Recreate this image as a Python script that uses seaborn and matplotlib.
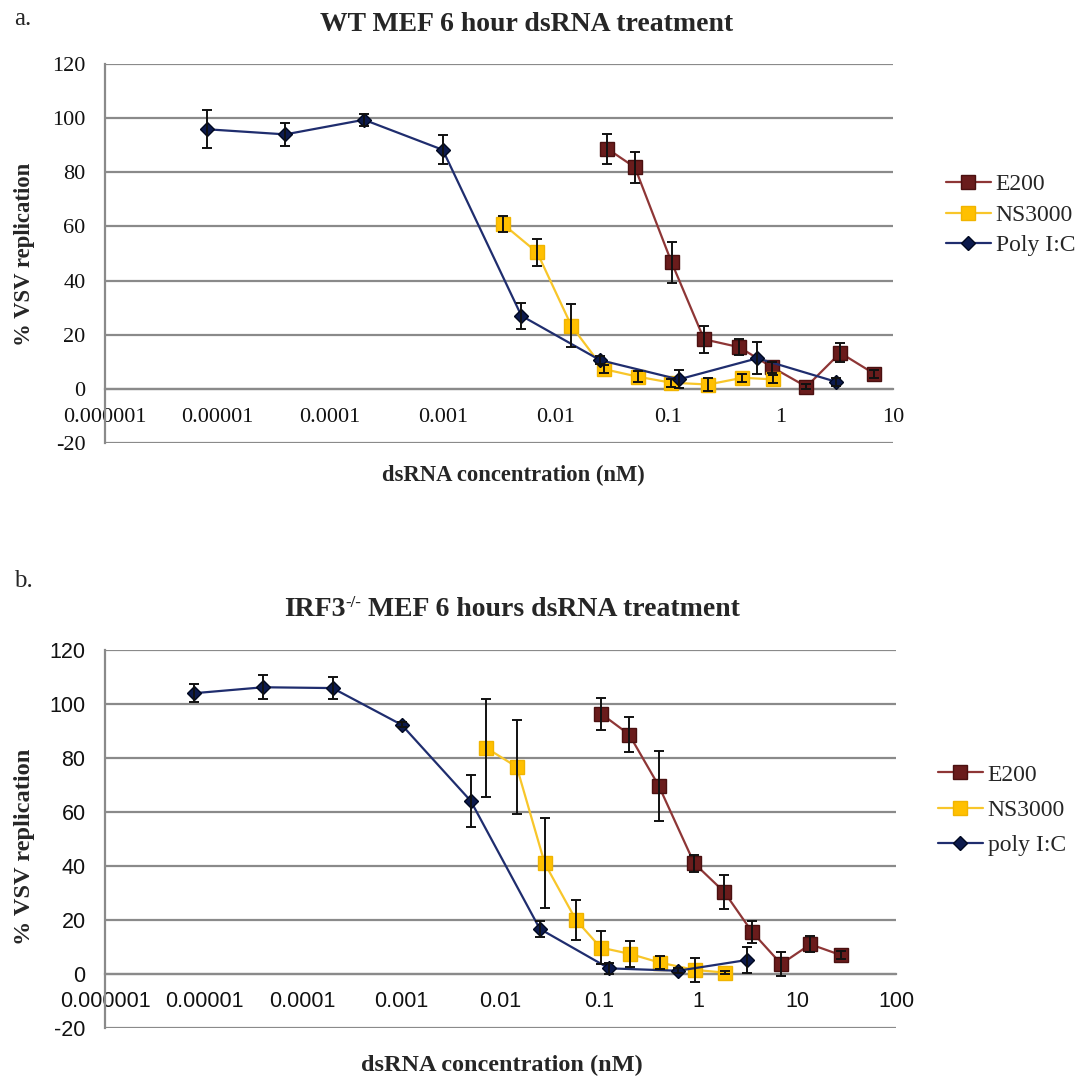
import matplotlib
matplotlib.use("Agg")
import matplotlib.pyplot as plt
import seaborn as sns
import pandas as pd
from matplotlib.ticker import FixedLocator, FixedFormatter, NullLocator
from matplotlib.lines import Line2D

# ---------------- data ----------------
series_names_a = ["E200", "NS3000", "Poly I:C"]
series_names_b = ["E200", "NS3000", "poly I:C"]

# Panel a: WT MEF
e200_a_x = [0.029, 0.051, 0.108, 0.21, 0.43, 0.85, 1.7, 3.4, 6.8]
e200_a_y = [88.7, 81.8, 46.7, 18.3, 15.4, 7.9, 0.8, 13.3, 5.6]
e200_a_err = [5.5, 5.7, 7.5, 5.0, 3.0, 2.0, 1.0, 3.5, 1.5]

ns_a_x = [0.0034, 0.0069, 0.0139, 0.027, 0.054, 0.106, 0.228, 0.46, 0.86]
ns_a_y = [61.0, 50.4, 23.3, 7.3, 4.5, 2.3, 1.6, 4.1, 3.5]
ns_a_err = [3.0, 5.0, 8.0, 1.5, 2.0, 1.5, 2.5, 1.5, 1.5]

poly_a_x = [8e-6, 4e-5, 2e-4, 1e-3, 5e-3, 0.025, 0.125, 0.625, 3.125]
poly_a_y = [95.9, 94.0, 99.4, 88.3, 27.0, 10.6, 3.5, 11.3, 2.6]
poly_a_err = [7.0, 4.3, 2.2, 5.4, 4.8, 1.5, 3.3, 5.9, 1.5]

# Panel b: IRF3-/- MEF
e200_b_x = [0.105, 0.20, 0.40, 0.91, 1.83, 3.5, 6.9, 13.6, 27.7]
e200_b_y = [96.3, 88.7, 69.6, 41.0, 30.4, 15.6, 3.7, 11.0, 7.0]
e200_b_err = [5.8, 6.5, 12.9, 3.2, 6.2, 4.0, 4.6, 2.9, 1.5]

ns_b_x = [0.0072, 0.0146, 0.028, 0.058, 0.103, 0.206, 0.41, 0.93, 1.88]
ns_b_y = [83.7, 76.7, 41.0, 20.0, 9.8, 7.4, 4.2, 1.5, 0.5]
ns_b_err = [18.0, 17.3, 16.7, 7.3, 6.0, 4.8, 2.5, 4.6, 0.5]

poly_b_x = [8e-6, 4e-5, 2e-4, 1e-3, 5e-3, 0.025, 0.125, 0.625, 3.125]
poly_b_y = [104.0, 106.2, 105.9, 92.3, 64.1, 16.7, 2.1, 1.2, 5.2]
poly_b_err = [3.4, 4.5, 4.2, 1.0, 9.7, 3.0, 2.0, 1.0, 4.7]

x_ticks_a = [1e-6, 1e-5, 1e-4, 1e-3, 1e-2, 1e-1, 1, 10]
x_labels_a = ["0.000001", "0.00001", "0.0001", "0.001", "0.01", "0.1", "1", "10"]
x_ticks_b = [1e-6, 1e-5, 1e-4, 1e-3, 1e-2, 1e-1, 1, 10, 100]
x_labels_b = ["0.000001", "0.00001", "0.0001", "0.001", "0.01", "0.1", "1", "10", "100"]
y_ticks = [-20, 0, 20, 40, 60, 80, 100, 120]

title_a = "WT MEF 6 hour dsRNA treatment"
title_b_parts = ["IRF3", "-/-", " MEF 6 hours dsRNA treatment"]
x_label = "dsRNA concentration (nM)"
y_label = "% VSV replication"

# ---------------- style ----------------
sns.set_theme(style="white")
plt.rcParams["font.family"] = ["Liberation Serif", "DejaVu Serif"]

SERIF = "Liberation Serif"
SANS = "Liberation Sans"
GRID = "#8a8a8a"

styles = {
    "E200": dict(color="#8e3636", marker="s", mfc="#6a1c1c", mec="#4a1010", ms=9.5),
    "NS3000": dict(color="#f8c62a", marker="s", mfc="#ffc000", mec="#f0b400", ms=9.5),
    "poly": dict(color="#1f2d6e", marker="D", mfc="#0c1a4d", mec="#000820", ms=7.5),
}

W, H = 1086, 1082
fig = plt.figure(figsize=(W / 100, H / 100), dpi=100)


def fx(px):
    return px / W


def fy(py):
    return 1 - py / H


axA = fig.add_axes([fx(105), fy(443), fx(893) - fx(105), fy(64) - fy(443)])
axB = fig.add_axes([fx(105), fy(1028), fx(896) - fx(105), fy(650) - fy(1028)])


def draw_series(ax, xs, ys, errs, key, label):
    st = styles[key]
    df = pd.DataFrame({"x": xs, "y": ys})
    sns.lineplot(data=df, x="x", y="y", ax=ax, color=st["color"], lw=1.6,
                 marker=st["marker"], markersize=st["ms"],
                 markerfacecolor=st["mfc"], markeredgecolor=st["mec"],
                 markeredgewidth=1.0, label=label, zorder=3, legend=False)
    ax.errorbar(xs, ys, yerr=errs, fmt="none", ecolor="#111111",
                elinewidth=1.4, capsize=3.5, capthick=1.4, zorder=4)


def style_axes(ax, xticks, xlabels, tickfont, ticksize, xpad):
    ax.set_xscale("log")
    ax.set_xlim(xticks[0], xticks[-1])
    ax.set_ylim(-20, 120)
    ax.xaxis.set_major_locator(FixedLocator(xticks))
    ax.xaxis.set_major_formatter(FixedFormatter(xlabels))
    ax.xaxis.set_minor_locator(NullLocator())
    ax.yaxis.set_major_locator(FixedLocator(y_ticks))
    ax.yaxis.set_major_formatter(FixedFormatter([str(v) for v in y_ticks]))
    ax.yaxis.grid(True, color=GRID, lw=1.6)
    ax.xaxis.grid(False)
    ax.set_axisbelow(True)
    ax.spines["top"].set_visible(False)
    ax.spines["right"].set_visible(False)
    ax.spines["bottom"].set_position(("data", 0))
    for s in ["bottom", "left"]:
        ax.spines[s].set_color(GRID)
        ax.spines[s].set_linewidth(1.6)
    ax.tick_params(axis="both", which="major", direction="out", length=5,
                   width=1.3, color=GRID, labelsize=ticksize, labelcolor="#111111")
    ax.tick_params(axis="x", pad=xpad)
    ax.tick_params(axis="y", pad=9)
    for lab in ax.get_xticklabels() + ax.get_yticklabels():
        lab.set_fontfamily(tickfont)
    ax.set_xlabel("")
    ax.set_ylabel("")
    ax.patch.set_alpha(0)


draw_series(axA, e200_a_x, e200_a_y, e200_a_err, "E200", series_names_a[0])
draw_series(axA, ns_a_x, ns_a_y, ns_a_err, "NS3000", series_names_a[1])
draw_series(axA, poly_a_x, poly_a_y, poly_a_err, "poly", series_names_a[2])
style_axes(axA, x_ticks_a, x_labels_a, SERIF, 16, 9)

draw_series(axB, e200_b_x, e200_b_y, e200_b_err, "E200", series_names_b[0])
draw_series(axB, ns_b_x, ns_b_y, ns_b_err, "NS3000", series_names_b[1])
draw_series(axB, poly_b_x, poly_b_y, poly_b_err, "poly", series_names_b[2])
style_axes(axB, x_ticks_b, x_labels_b, SANS, 15.5, 7)


def make_legend(ax, names, cx, cy, spacing):
    keys = ["E200", "NS3000", "poly"]
    handles = []
    for k, n in zip(keys, names):
        st = styles[k]
        handles.append(Line2D([0], [0], color=st["color"], lw=1.6, marker=st["marker"],
                              markersize=st["ms"], markerfacecolor=st["mfc"],
                              markeredgecolor=st["mec"], label=n))
    ax.legend(handles=handles, loc="center left", bbox_to_anchor=(fx(cx), fy(cy)),
              bbox_transform=fig.transFigure, frameon=False,
              prop={"family": SERIF, "size": 17}, handlelength=1.9,
              handletextpad=0.2, labelspacing=spacing, borderpad=0, borderaxespad=0)


make_legend(axA, series_names_a, 946, 215, 0.38)
make_legend(axB, series_names_b, 938, 810, 0.58)

# panel letters
fig.text(fx(14), fy(25), "a.", fontsize=18, family=SERIF, va="baseline", ha="left")
fig.text(fx(14), fy(587), "b.", fontsize=18, family=SERIF, va="baseline", ha="left")

# titles
fig.text(fx(527), fy(31), title_a, fontsize=20, family=SERIF, weight="bold",
         ha="center", va="baseline")

fig.canvas.draw()
r = fig.canvas.get_renderer()
widths = []
sizes = [20, 12, 20]
for part, sz in zip(title_b_parts, sizes):
    t = fig.text(0, 0, part, fontsize=sz, family=SERIF, weight="bold")
    widths.append(t.get_window_extent(r).width)
    t.remove()
total = sum(widths)
x0 = 512 - total / 2
base_y = 616
offs = [0, -9, 0]
xcur = x0
for part, sz, w, o in zip(title_b_parts, sizes, widths, offs):
    fig.text(fx(xcur), fy(base_y + o), part, fontsize=sz, family=SERIF, weight="bold",
             ha="left", va="baseline")
    xcur += w

# axis labels
fig.text(fx(513), fy(475), x_label, fontsize=16.3, family=SERIF, weight="bold",
         ha="center", va="center")
fig.text(fx(502), fy(1065), x_label, fontsize=17.5, family=SERIF, weight="bold",
         ha="center", va="center")
fig.text(fx(25), fy(254), y_label, fontsize=16.4, family=SERIF, weight="bold",
         ha="center", va="center", rotation=90)
fig.text(fx(25), fy(847), y_label, fontsize=17.6, family=SERIF, weight="bold",
         ha="center", va="center", rotation=90)

fig.savefig("out.png", dpi=100)
